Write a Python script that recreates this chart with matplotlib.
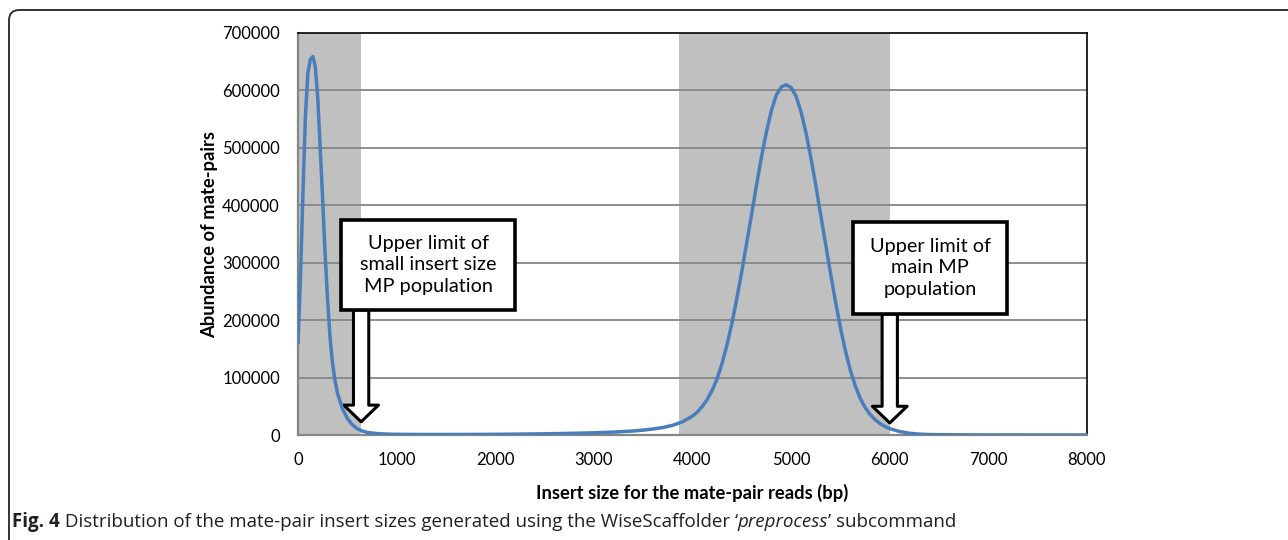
import matplotlib

matplotlib.use("Agg")
import matplotlib.pyplot as plt
from matplotlib.patches import FancyArrowPatch, FancyBboxPatch, Rectangle

# insert size (bp) and abundance of mate-pairs
insert_bp = [0, 25, 50, 75, 100, 125, 150, 175, 200, 225, 250, 275, 300, 325, 350, 375,
             400, 450, 500, 550, 600, 650, 700, 800, 900, 1000, 1250, 1500, 1750, 2000,
             2250, 2500, 2750, 3000, 3200, 3400, 3500, 3600, 3700, 3800, 3900, 4000,
             4050, 4100, 4150, 4200, 4250, 4300, 4350, 4400, 4450, 4500, 4550, 4600,
             4650, 4700, 4750, 4800, 4850, 4900, 4950, 5000, 5050, 5100, 5150, 5200,
             5250, 5300, 5350, 5400, 5450, 5500, 5550, 5600, 5650, 5700, 5750, 5800,
             5850, 5900, 5950, 6000, 6100, 6200, 6300, 6400, 6600, 6800, 7000, 7500, 8000]
abundance = [158000, 275000, 420000, 555000, 630000, 654000, 659000, 642000, 588000,
             500000, 410000, 315000, 235000, 170000, 125000, 95000, 73000, 46000, 29000,
             18000, 11000, 7000, 4500, 2500, 1600, 1200, 900, 900, 1000, 1200, 1600,
             2100, 2800, 3800, 5000, 7000, 8500, 10500, 13000, 17000, 23000, 33000,
             40000, 50000, 62000, 78000, 98000, 125000, 157000, 195000, 238000, 285000,
             335000, 385000, 436000, 485000, 528000, 565000, 592000, 606000, 610000,
             605000, 590000, 563000, 527000, 483000, 435000, 383000, 332000, 281000,
             232000, 187000, 147000, 113000, 86000, 64000, 48000, 36000, 27000, 20000,
             15000, 11000, 6000, 3000, 1500, 800, 400, 200, 100, 50, 0]

# shaded populations (bp)
small_pop = (0, 640)
main_pop = (3860, 6000)

x_ticks = list(range(0, 8001, 1000))
y_ticks = list(range(0, 700001, 100000))

small_label = "Upper limit of\nsmall insert size\nMP population"
main_label = "Upper limit of\nmain MP\npopulation"

BLUE = "#4a7ebb"
GRID = "#868686"

fig = plt.figure(figsize=(12.88, 5.4), dpi=100)
ax = fig.add_axes([298 / 1288, 1 - 435 / 540, 789 / 1288, 402 / 540])

ax.axvspan(*small_pop, color="#c0c0c0", lw=0, zorder=0.2)
ax.axvspan(*main_pop, color="#c0c0c0", lw=0, zorder=0.2)
for y in y_ticks[1:-1]:
    ax.axhline(y, color=GRID, lw=1.3, zorder=0.5)

ax.plot(insert_bp, abundance, color=BLUE, lw=2.5, zorder=5,
        solid_joinstyle="round", solid_capstyle="butt")

ax.set_xlim(0, 8000)
ax.set_ylim(0, 700000)
ax.set_xticks(x_ticks)
ax.set_yticks(y_ticks)
ax.set_xticklabels([str(v) for v in x_ticks])
ax.set_yticklabels([str(v) for v in y_ticks])
ax.tick_params(length=0, labelsize=12, pad=13)
ax.tick_params(axis="x", pad=12)
for lab in ax.get_xticklabels() + ax.get_yticklabels():
    lab.set_fontfamily("Lato")

for side in ("left", "bottom"):
    ax.spines[side].set_color(GRID)
    ax.spines[side].set_linewidth(1.6)
for side in ("top", "right"):
    ax.spines[side].set_color("black")
    ax.spines[side].set_linewidth(1.2)

ax.set_xlabel("Insert size for the mate-pair reads (bp)", fontsize=13.2,
              fontweight="bold", family="Lato", labelpad=12)
ax.set_ylabel("Abundance of mate-pairs", fontsize=13.2, fontweight="bold",
              family="Lato", labelpad=3)


def callout(x0, x1, y0, y1, tip_x, tip_y, text):
    ax.add_patch(Rectangle((x0, y0), x1 - x0, y1 - y0, fc="white", ec="black",
                           lw=2.6, zorder=4, clip_on=False))
    ax.text((x0 + x1) / 2, (y0 + y1) / 2, text, ha="center", va="center",
            fontsize=14.3, family="Lato", linespacing=1.35, zorder=4.5)
    arrow = FancyArrowPatch((tip_x, y0), (tip_x, tip_y),
                            arrowstyle="simple,head_length=12,head_width=25,tail_width=11",
                            mutation_scale=1, shrinkA=0, shrinkB=0,
                            fc="white", ec="black", lw=2.2, zorder=3.5)
    ax.add_patch(arrow)


callout(440, 2200, 217700, 374500, small_pop[1], 23000, small_label)
callout(5630, 7190, 210800, 371000, main_pop[1], 21000, main_label)

# outer panel frame (right and bottom edges fall outside the image)
top = 1 - 10 / 540
left = 9 / 1288
frame = FancyBboxPatch((left, -0.05), 1.1, top + 0.05,
                       boxstyle="round,pad=0,rounding_size=0.008",
                       mutation_aspect=1288 / 540,
                       transform=fig.transFigure, fc="none", ec="#333333",
                       lw=1.4, clip_on=False)
fig.patches.append(frame)

# caption with mixed styles
cap_parts = [("Fig. 4", "bold", "normal"),
             (" Distribution of the mate-pair insert sizes generated using the WiseScaffolder \u2018", "normal", "normal"),
             ("preprocess", "normal", "italic"),
             ("\u2019 subcommand", "normal", "normal")]
renderer = fig.canvas.get_renderer()
x = 12 / 1288
for txt, weight, style in cap_parts:
    t = fig.text(x, 1 - 522 / 540, txt, fontsize=13.5, family="Open Sans",
                 fontweight=weight, fontstyle=style, va="center", ha="left",
                 color="#231f20")
    bb = t.get_window_extent(renderer)
    x += bb.width / fig.bbox.width

fig.savefig("out.png", dpi=100)
